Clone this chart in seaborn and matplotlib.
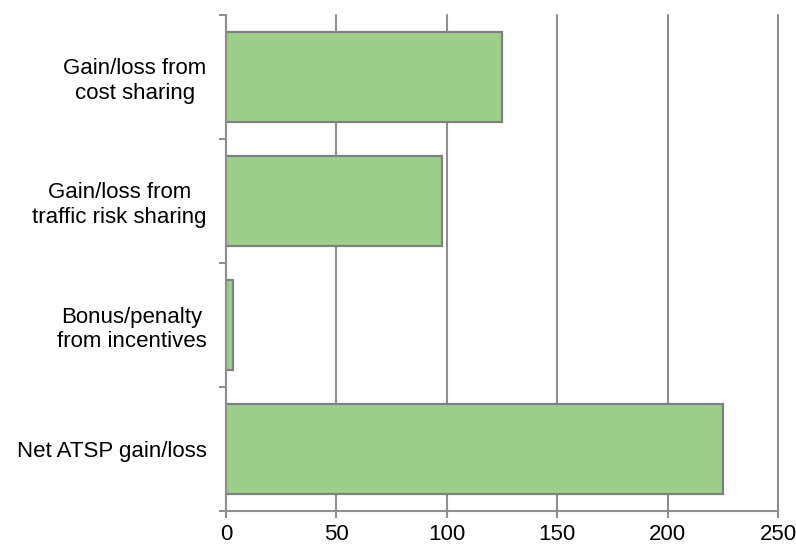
import matplotlib
matplotlib.use("Agg")
import matplotlib.pyplot as plt
import seaborn as sns
import numpy as np

categories = [
    "Gain/loss from\ncost sharing",
    "Gain/loss from\ntraffic risk sharing",
    "Bonus/penalty\nfrom incentives",
    "Net ATSP gain/loss",
]
values = [125, 98, 3.3, 225]
x_ticks = [0, 50, 100, 150, 200, 250]

bar_color = "#9dcf8b"
edge_color = "#808080"
grid_color = "#8f8f8f"

sns.set_style("white")
plt.rcParams["font.family"] = ["Liberation Sans", "DejaVu Sans"]

fig = plt.figure(figsize=(7.96, 5.46), dpi=100)
ax = fig.add_axes([226 / 796, 1 - 511 / 546, (778 - 226) / 796, (511 - 15) / 546])

sns.barplot(
    x=values, y=categories, orient="h", color=bar_color, saturation=1,
    edgecolor=edge_color, linewidth=1.6, width=0.73, ax=ax,
)

ax.set_xlim(0, 250)
ax.set_ylim(len(categories) - 0.5, -0.5)
ax.set_xticks(x_ticks)
ax.set_xticklabels([str(t) for t in x_ticks])

# vertical gridlines only, behind the bars
ax.set_axisbelow(True)
ax.xaxis.grid(True, color=grid_color, linewidth=1.5)
ax.yaxis.grid(False)
for gl in ax.get_xgridlines():
    gl.set_clip_on(False)

for side in ["top", "right"]:
    ax.spines[side].set_visible(False)
for side in ["left", "bottom"]:
    ax.spines[side].set_color(grid_color)
    ax.spines[side].set_linewidth(1.5)

# category separators as minor ticks on the left axis
ax.set_yticks(np.arange(-0.5, len(categories), 1.0), minor=True)
ax.tick_params(axis="y", which="minor", length=5, width=1.5, color=grid_color, direction="out", left=True)
ax.tick_params(axis="y", which="major", length=0, pad=14, labelsize=16, labelcolor="black")
ax.tick_params(axis="x", which="major", length=5, width=1.5, color=grid_color, direction="out",
               bottom=True, pad=4.5, labelsize=16, labelcolor="black")
for lab in ax.get_yticklabels():
    lab.set_multialignment("center")

ax.set_xlabel("")
ax.set_ylabel("")

fig.savefig("out.png", dpi=100)
